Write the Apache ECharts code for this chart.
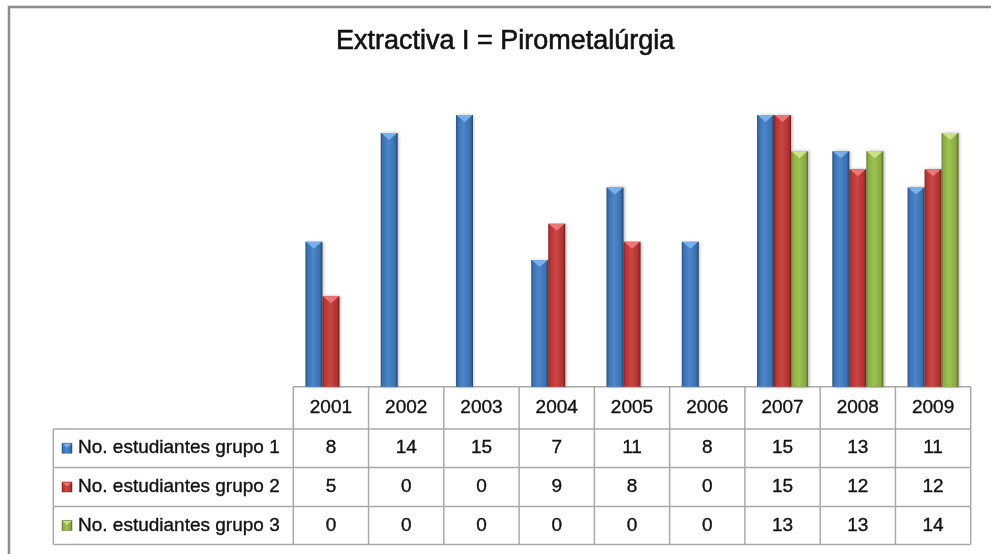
<!DOCTYPE html>
<html>
<head>
<meta charset="utf-8">
<script src="https://cdn.jsdelivr.net/npm/echarts@6/dist/echarts.min.js"></script>
<style>
  html, body { margin: 0; padding: 0; background: #fff; }
  #chart { width: 991px; height: 554px; }
</style>
</head>
<body>
<div id="chart"></div>
<script>
// Data
const titleText = 'Extractiva I = Pirometalúrgia';
const years = ['2001', '2002', '2003', '2004', '2005', '2006', '2007', '2008', '2009'];
const seriesNames = ['No. estudiantes grupo 1', 'No. estudiantes grupo 2', 'No. estudiantes grupo 3'];
const grupo1 = [8, 14, 15, 7, 11, 8, 15, 13, 11];
const grupo2 = [5, 0, 0, 9, 8, 0, 15, 12, 12];
const grupo3 = [0, 0, 0, 0, 0, 0, 13, 13, 14];
const allValues = [grupo1, grupo2, grupo3];

// Layout
const W = 991, H = 554;
const gridLeft = 293.3, gridRight = 970.7, gridTop = 115, gridBottom = 386.7;
const labelLeft = 53.3;
const rowLines = [386.7, 429, 467.5, 506.5, 544.5];
const lineColor = '#a9a9a9';
const font = '"Liberation Sans", Arial, sans-serif';

// Bar palettes: edge-dark / mid-light horizontal shading plus a bevel tip colour
const palettes = [
  { stops: ['#28507f', '#3c71b0', '#4a86cb', '#3b70ad', '#21426a'], tip: '#78b0ee' },
  { stops: ['#80201f', '#b53535', '#cb4543', '#ae3432', '#721b1a'], tip: '#ea7676' },
  { stops: ['#647d2c', '#8cad44', '#9dc253', '#88a742', '#566d24'], tip: '#c8e284' }
];
function barGradient(p) {
  return {
    type: 'linear', x: 0, y: 0, x2: 1, y2: 0,
    colorStops: [
      { offset: 0, color: p.stops[0] },
      { offset: 0.12, color: p.stops[1] },
      { offset: 0.45, color: p.stops[2] },
      { offset: 0.85, color: p.stops[3] },
      { offset: 1, color: p.stops[4] }
    ]
  };
}

const barW = 17;
const series = [];
allValues.forEach((vals, i) => {
  series.push({
    name: seriesNames[i],
    type: 'bar',
    data: vals,
    barWidth: barW,
    barGap: '0%',
    itemStyle: {
      color: barGradient(palettes[i]),
      shadowColor: 'rgba(0,0,0,0.28)',
      shadowBlur: 3,
      shadowOffsetX: 1.5
    },
    emphasis: { disabled: true },
    z: 2
  });
});
allValues.forEach((vals, i) => {
  series.push({
    name: seriesNames[i] + ' tip',
    type: 'pictorialBar',
    data: vals.map(v => (v > 0 ? v : '-')),
    barWidth: barW,
    barGap: '0%',
    symbol: 'path://M0,0 L10,0 L5,4 Z',
    symbolSize: [barW - 1, 7],
    symbolPosition: 'end',
    symbolOffset: [0, 0],
    itemStyle: { color: palettes[i].tip },
    emphasis: { disabled: true },
    silent: true,
    z: 3
  });
});

// Data table under the plot
const colW = (gridRight - gridLeft) / years.length;
const table = [];
// horizontal rules
table.push({ type: 'line', shape: { x1: gridLeft, y1: rowLines[0], x2: gridRight, y2: rowLines[0] } });
for (let r = 1; r < rowLines.length; r++) {
  table.push({ type: 'line', shape: { x1: labelLeft, y1: rowLines[r], x2: gridRight, y2: rowLines[r] } });
}
// vertical rules
table.push({ type: 'line', shape: { x1: labelLeft, y1: rowLines[1], x2: labelLeft, y2: rowLines[4] } });
for (let c = 0; c <= years.length; c++) {
  const x = gridLeft + c * colW;
  table.push({ type: 'line', shape: { x1: x, y1: rowLines[0], x2: x, y2: rowLines[4] } });
}
table.forEach(el => { el.style = { stroke: lineColor, lineWidth: 1.5 }; el.silent = true; });

const textStyleBase = {
  fill: '#111', font: '19px ' + font, textVerticalAlign: 'middle',
  stroke: '#111', lineWidth: 0.35
};
years.forEach((y, c) => {
  table.push({
    type: 'text',
    x: gridLeft + (c + 0.5) * colW,
    y: (rowLines[0] + rowLines[1]) / 2,
    style: Object.assign({}, textStyleBase, { text: y, textAlign: 'center' })
  });
});
allValues.forEach((vals, r) => {
  const yMid = (rowLines[r + 1] + rowLines[r + 2]) / 2;
  // legend key
  const p = palettes[r];
  table.push({
    type: 'rect',
    shape: { x: 62, y: yMid - 5, width: 10, height: 10 },
    style: { fill: barGradient(p), stroke: p.stops[4], lineWidth: 0.5 }
  });
  table.push({
    type: 'polygon',
    shape: { points: [[62.5, yMid - 4.5], [71.5, yMid - 4.5], [67, yMid - 0.5]] },
    style: { fill: p.tip }
  });
  table.push({
    type: 'text',
    x: 78,
    y: yMid,
    style: Object.assign({}, textStyleBase, { text: seriesNames[r], textAlign: 'left' })
  });
  vals.forEach((v, c) => {
    table.push({
      type: 'text',
      x: gridLeft + (c + 0.5) * colW,
      y: yMid,
      style: Object.assign({}, textStyleBase, { text: String(v), textAlign: 'center' })
    });
  });
});

const chart = echarts.init(document.getElementById('chart'), null, { renderer: 'canvas' });
chart.setOption({
  backgroundColor: '#fff',
  animation: false,
  title: {
    text: titleText,
    left: 336,
    top: 28,
    padding: 0,
    textStyle: {
      fontFamily: font, fontSize: 27, fontWeight: 'normal', color: '#111',
      textBorderColor: '#111', textBorderWidth: 0.6
    }
  },
  grid: {
    left: gridLeft,
    right: W - gridRight,
    top: gridTop,
    bottom: H - gridBottom
  },
  xAxis: {
    type: 'category',
    data: years,
    axisLine: { show: false },
    axisTick: { show: false },
    axisLabel: { show: false }
  },
  yAxis: {
    type: 'value',
    min: 0,
    max: 15,
    show: false,
    splitLine: { show: false }
  },
  series: series,
  graphic: [
    {
      type: 'rect',
      shape: { x: 9, y: 7, width: 1100, height: 700 },
      style: { fill: null, stroke: '#8c8c8c', lineWidth: 2.5 },
      silent: true,
      z: 0
    },
    { type: 'group', children: table, silent: true }
  ]
});
</script>
</body>
</html>
